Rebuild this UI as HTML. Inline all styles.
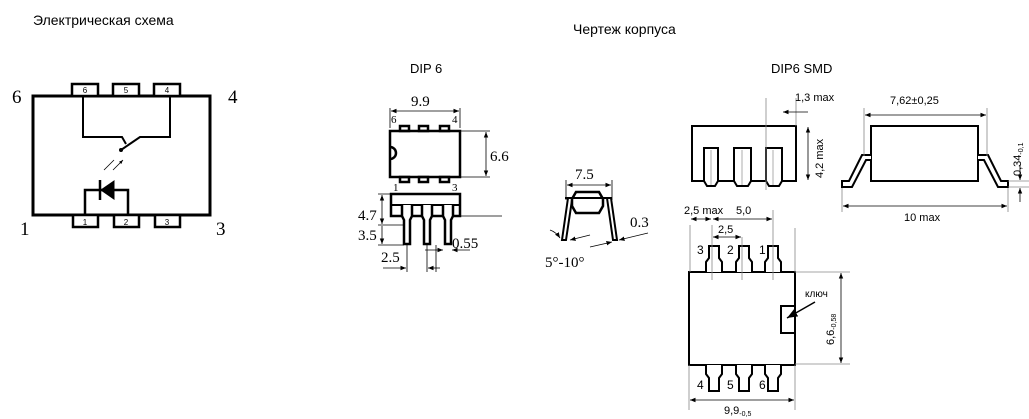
<!DOCTYPE html>
<html><head><meta charset="utf-8"><style>
body{margin:0;background:#fff;width:1029px;height:419px;overflow:hidden}
svg{display:block}
.s{font-family:"Liberation Sans","DejaVu Sans",sans-serif}
.r{font-family:"Liberation Serif",serif}
</style></head><body>
<svg width="1029" height="419" viewBox="0 0 1029 419" xmlns="http://www.w3.org/2000/svg">
<defs>
<marker id="a" viewBox="0 0 10 10" refX="10" refY="5" markerWidth="7" markerHeight="7" orient="auto-start-reverse"><path d="M0,1 L10,5 L0,9 z" fill="#000"/></marker>
<marker id="b" viewBox="0 0 10 10" refX="10" refY="5" markerWidth="5" markerHeight="5" orient="auto"><path d="M0,1 L10,5 L0,9 z" fill="#000"/></marker>
</defs>
<g class="s" fill="#000">
<text x="33" y="25" font-size="14">Электрическая схема</text>
<text x="573" y="34" font-size="14">Чертеж корпуса</text>
<text x="410" y="73" font-size="13">DIP 6</text>
<text x="771" y="73" font-size="13">DIP6  SMD</text>
</g>

<!-- schematic -->
<g fill="none" stroke="#000">
<rect x="33" y="96" width="177" height="119" stroke-width="3"/>
<g stroke-width="2.5" fill="#fff">
<rect x="72" y="84" width="26" height="12"/><rect x="113" y="84" width="26" height="12"/><rect x="154" y="84" width="26" height="12"/>
<rect x="73" y="215" width="25" height="12"/><rect x="114" y="215" width="25" height="12"/><rect x="155" y="215" width="25" height="12"/>
</g>
<path d="M83 96 V137 H122 L126 144 M121 150 L140 137 H170 V96" stroke-width="2"/>
<path d="M85 215 V190 H128 V215" stroke-width="2.5"/>
<path d="M114 181 L101 190 L114 199 Z" fill="#000" stroke-width="1"/>
<path d="M100 180 V200" stroke-width="2.5"/>
<path d="M104 170 L114 160 M113 170 L123 160" stroke-width="0.8" marker-end="url(#b)"/>
</g>
<circle cx="121" cy="150" r="2" fill="#000"/>
<g class="s" font-size="8" text-anchor="middle" fill="#000">
<text x="85" y="93">6</text><text x="126" y="93">5</text><text x="167" y="93">4</text>
<text x="85" y="225">1</text><text x="126" y="225">2</text><text x="167" y="225">3</text>
</g>
<g class="r" font-size="19" fill="#000">
<text x="12" y="103">6</text><text x="228" y="103">4</text>
<text x="20" y="235">1</text><text x="216" y="235">3</text>
</g>

<!-- DIP6 top -->
<g fill="none" stroke="#000">
<rect x="390" y="131" width="70" height="46" stroke-width="2.5"/>
<path d="M390 147 A6 6 0 0 1 390 159" stroke-width="2.5"/>
<g stroke-width="2.5"><rect x="400" y="126" width="9" height="5"/><rect x="419" y="126" width="9" height="5"/><rect x="440" y="126" width="9" height="5"/>
<rect x="400" y="177" width="9" height="5"/><rect x="419" y="177" width="9" height="5"/><rect x="440" y="177" width="9" height="5"/></g>
<g stroke-width="0.8">
<path d="M390 108 V128 M460 108 V128 M460 131 H490 M460 177 H490"/>
<path d="M391 111 H459" marker-start="url(#a)" marker-end="url(#a)"/>
<path d="M486 132 V176" marker-start="url(#a)" marker-end="url(#a)"/>
</g>
<!-- side -->
<rect x="391" y="194" width="69" height="22" stroke-width="2.5"/>
<path d="M391 205 H460" stroke-width="2"/>
<g stroke-width="2.5" fill="#fff">
<path d="M402 205 V216 L404 220 V244 H410 V220 L412 216 V205"/>
<path d="M422 205 V216 L424 220 V244 H430 V220 L432 216 V205"/>
<path d="M443 205 V216 L445 220 V244 H451 V220 L453 216 V205"/>
</g>
<g stroke-width="0.8">
<path d="M460 216 H502 M378 194 H391 M378 225 H404 M378 245 H404"/>
<path d="M382 195 V224" marker-start="url(#a)" marker-end="url(#a)"/>
<path d="M382 226 V244" marker-end="url(#a)"/>
<path d="M407 245 V272 M427 245 V272 M436 245 V272"/>
<path d="M383 268 H406" marker-end="url(#a)"/>
<path d="M428 268 H440" marker-start="url(#a)"/>
<path d="M425 250 H443" marker-end="url(#a)"/>
<path d="M470 250 H452" marker-end="url(#a)"/>
</g>
</g>
<g class="r" fill="#000">
<text x="411" y="106" font-size="15">9.9</text>
<text x="391" y="123" font-size="11">6</text><text x="452" y="123" font-size="11">4</text>
<text x="490" y="161" font-size="15">6.6</text>
<text x="393" y="191" font-size="11">1</text><text x="452" y="191" font-size="11">3</text>
<text x="358" y="220" font-size="15">4.7</text>
<text x="358" y="240" font-size="15">3.5</text>
<text x="452" y="248" font-size="15">0.55</text>
<text x="381" y="262" font-size="15">2.5</text>
<text x="575" y="179" font-size="15">7.5</text>
<text x="630" y="227" font-size="15">0.3</text>
<text x="545" y="267" font-size="15">5°-10°</text>
</g>

<!-- end view -->
<g fill="none" stroke="#000">
<path d="M576 192 H599 L603 199 V206 L599 213 H576 L572 206 V199 Z" stroke-width="2.5"/>
<path d="M568 198 L562 240 H566 L572 200 M607 198 L613 240 H617 L611 198 M565 198 H612" stroke-width="2"/>
<g stroke-width="0.8">
<path d="M566 180 V200 M612 180 V200"/>
<path d="M567 185 H611" marker-start="url(#a)" marker-end="url(#a)"/>
<path d="M550 230 Q556 232 560 238" marker-end="url(#a)"/>
<path d="M590 235 L570 240" marker-end="url(#a)"/>
<path d="M590 247 L612 242" marker-end="url(#a)"/>
<path d="M648 233 L619 240" marker-end="url(#a)"/>
</g>
</g>

<!-- SMD side -->
<g fill="none" stroke="#000">
<rect x="692" y="126" width="104" height="55" stroke-width="2"/>
<g stroke-width="2" fill="#fff">
<path d="M704 181 V148 H718 V181 L715 186 H707 Z"/>
<path d="M734 181 V148 H751 V181 L748 186 H737 Z"/>
<path d="M766 181 V148 H782 V181 L779 186 H769 Z"/>
</g>
<g stroke="#999" stroke-width="0.8"><path d="M711 150 V185 M742 150 V185 M773 150 V185"/></g>
<g stroke-width="0.8">
<path d="M766 98 V190 M796 98 V126" stroke="#888"/>
<path d="M808 112 H783" marker-end="url(#a)"/>
<path d="M808 127 V180" marker-start="url(#a)" marker-end="url(#a)"/>
</g>
<!-- SMD end -->
<rect x="871" y="126" width="107" height="55" stroke-width="2"/>
<path d="M871 155 H862 L849 181 H842 V187 H852 L866 160 H871 M978 155 H988 L1001 181 H1008 V187 H998 L984 160 H978" stroke-width="2" fill="#fff"/>
<g stroke-width="0.8">
<path d="M864 108 V156 M987 108 V156 M842 188 V212 M1008 188 V212 M1008 181 H1029 M1008 187 H1029" stroke="#888"/>
<path d="M865 115 H986" marker-start="url(#a)" marker-end="url(#a)"/>
<path d="M843 206 H1007" marker-start="url(#a)" marker-end="url(#a)"/>
<path d="M1020 165 V180" marker-end="url(#a)"/>
<path d="M1020 202 V188" marker-end="url(#a)"/>
</g>
<!-- SMD top -->
<rect x="689" y="272" width="106" height="93" stroke-width="2"/>
<rect x="781" y="306" width="14" height="27" stroke-width="2" fill="#fff"/>
<g stroke-width="2" fill="#fff">
<path d="M706 272 V262 L709 258 V246 H719 V258 L722 262 V272"/>
<path d="M736 272 V262 L739 258 V246 H749 V258 L752 262 V272"/>
<path d="M765 272 V262 L768 258 V246 H778 V258 L781 262 V272"/>
<path d="M706 365 V374 L709 378 V391 H719 V378 L722 374 V365"/>
<path d="M736 365 V374 L739 378 V391 H749 V378 L752 374 V365"/>
<path d="M765 365 V374 L768 378 V391 H778 V378 L781 374 V365"/>
</g>
<g stroke-width="0.8">
<path d="M690 225 V272 M712 225 V280 M742 237 V280 M773 210 V280 M795 228 V272 M795 365 V410 M689 365 V410 M795 272 H850 M795 364 H850" stroke="#888"/>
<path d="M691 219 H711" marker-start="url(#a)" marker-end="url(#a)"/>
<path d="M713 219 H772" marker-start="url(#a)" marker-end="url(#a)"/>
<path d="M713 237 H741" marker-start="url(#a)" marker-end="url(#a)"/>
<path d="M841 273 V363" marker-start="url(#a)" marker-end="url(#a)"/>
<path d="M690 400 H794" marker-start="url(#a)" marker-end="url(#a)"/>
<path d="M815 302 L787 318" stroke-width="1.5" marker-end="url(#a)"/>
</g>
</g>
<g class="s" fill="#000" font-size="11">
<text x="795" y="101">1,3 max</text>
<text x="890" y="104">7,62±0,25</text>
<text x="904" y="221">10 max</text>
<text x="684" y="214">2,5 max</text>
<text x="736" y="214">5,0</text>
<text x="718" y="233">2,5</text>
<text x="805" y="297" font-size="10">ключ</text>
<text x="697" y="254" font-size="12">3</text><text x="727" y="254" font-size="12">2</text><text x="759" y="254" font-size="12">1</text>
<text x="697" y="389" font-size="12">4</text><text x="727" y="389" font-size="12">5</text><text x="759" y="389" font-size="12">6</text>
<text x="724" y="414">9,9<tspan font-size="7" dy="2">-0,5</tspan></text>
<text transform="translate(823,178) rotate(-90)">4,2 max</text>
<text transform="translate(1021,176) rotate(-90)">0,34<tspan font-size="7" dy="2">-0,1</tspan></text>
<text transform="translate(834,345) rotate(-90)">6,6<tspan font-size="7" dy="2">-0,58</tspan></text>
</g>
</svg>
</body></html>
